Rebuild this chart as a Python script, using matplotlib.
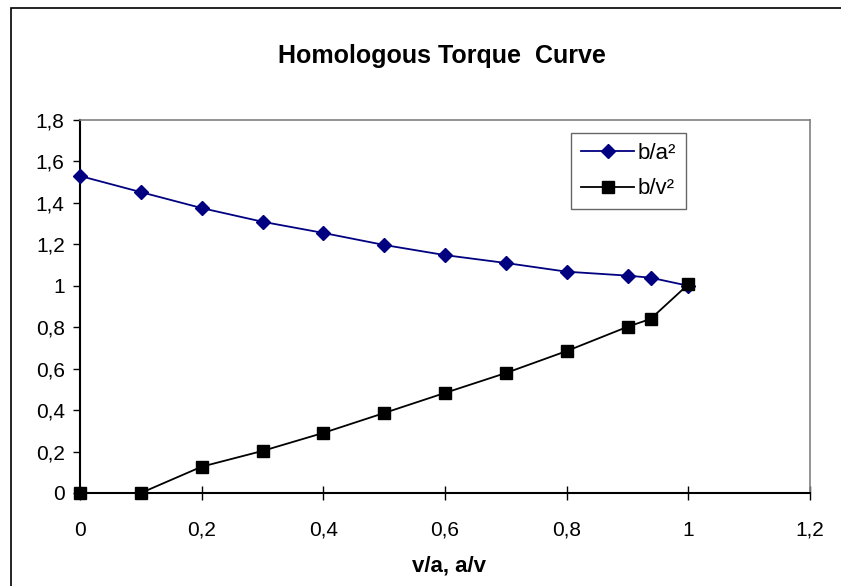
import matplotlib
matplotlib.use("Agg")
import matplotlib.pyplot as plt
from matplotlib.patches import Rectangle

plt.rcParams['font.family'] = ['Liberation Sans', 'DejaVu Sans']

x = [0, 0.1, 0.2, 0.3, 0.4, 0.5, 0.6, 0.7, 0.8, 0.9, 0.938, 1.0]
b_a2 = [1.53, 1.452, 1.375, 1.309, 1.255, 1.197, 1.148, 1.11, 1.068, 1.049, 1.039, 1.0]
b_v2 = [0, 0, 0.127, 0.203, 0.29, 0.386, 0.483, 0.579, 0.685, 0.802, 0.84, 1.007]

xticks = [0, 0.2, 0.4, 0.6, 0.8, 1.0, 1.2]
xlabels = ['0', '0,2', '0,4', '0,6', '0,8', '1', '1,2']
yticks = [0, 0.2, 0.4, 0.6, 0.8, 1.0, 1.2, 1.4, 1.6, 1.8]
ylabels = ['0', '0,2', '0,4', '0,6', '0,8', '1', '1,2', '1,4', '1,6', '1,8']

W, H = 841, 586
fig = plt.figure(figsize=(W / 100, H / 100), dpi=100)
ax = fig.add_axes([80 / W, 1 - 493 / H, 730 / W, 373 / H])

# outer chart frame (cut off at right/bottom)
fig.patches.append(Rectangle((11 / W, -0.1), 1.2, 1.1 - 8 / H, transform=fig.transFigure,
                             fill=False, edgecolor='black', lw=1.2))

ax.plot(x, b_a2, color='#000080', lw=1.3, marker='D', ms=7.5, mfc='#000080', mec='#000080',
        label='b/a²', clip_on=False, zorder=3)
ax.plot(x, b_v2, color='black', lw=1.3, marker='s', ms=8.5, mfc='black', mec='black',
        label='b/v²', clip_on=False, zorder=3)

ax.set_xlim(0, 1.2)
ax.set_ylim(0, 1.8)
ax.set_xticks(xticks)
ax.set_xticklabels(xlabels)
ax.set_yticks(yticks)
ax.set_yticklabels(ylabels)
ax.tick_params(axis='x', direction='inout', length=10, width=1, labelsize=15, pad=15)
ax.tick_params(axis='y', direction='out', length=5, width=1, labelsize=15, pad=6)

for s in ['top', 'right']:
    ax.spines[s].set_color('#808080')
    ax.spines[s].set_linewidth(1.2)
for s in ['left', 'bottom']:
    ax.spines[s].set_color('black')
    ax.spines[s].set_linewidth(1.5)

fig.text(442 / W, 1 - 56 / H, 'Homologous Torque  Curve', ha='center', va='center',
         fontsize=18, fontweight='bold')
fig.text(449 / W, 1 - 566 / H, 'v/a, a/v', ha='center', va='center',
         fontsize=16, fontweight='bold')

leg = ax.legend(loc='upper left', bbox_to_anchor=(571 / W, 1 - 133 / H), bbox_transform=fig.transFigure,
                fontsize=16, frameon=True, fancybox=False, edgecolor='#404040',
                borderpad=0.45, handlelength=2.4, handletextpad=0.15, labelspacing=0.65,
                borderaxespad=0)
leg.get_frame().set_linewidth(1.0)

fig.savefig('out.png', dpi=100)
